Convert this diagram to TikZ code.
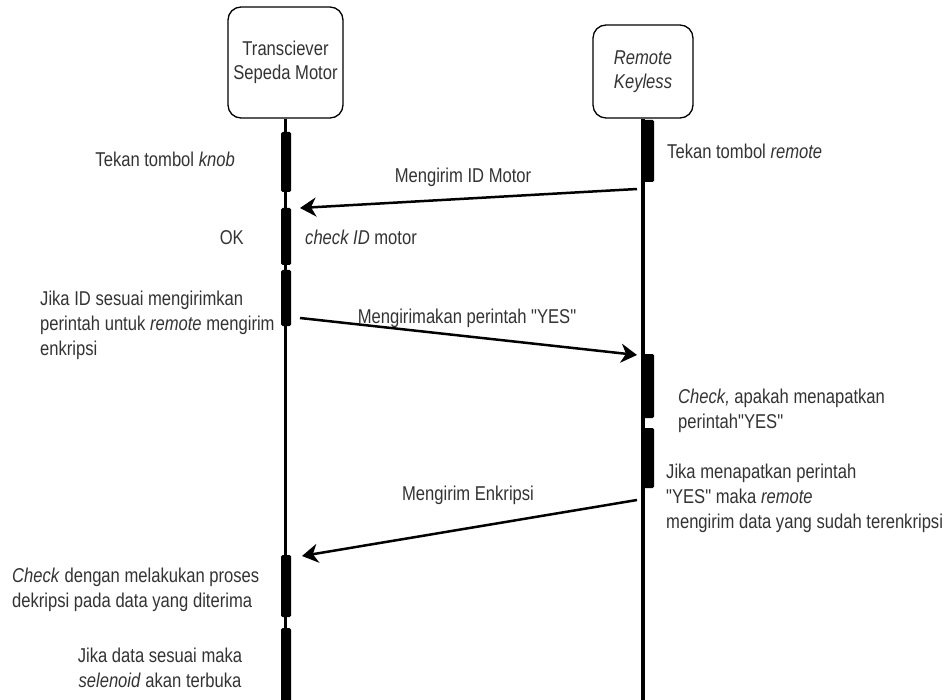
\documentclass[tikz,border=0pt]{standalone}
\usepackage{fontspec}
\setmainfont{Liberation Sans}[FakeStretch=0.83, Ligatures=TeXOff]
\usetikzlibrary{arrows.meta}
\begin{document}
\begin{tikzpicture}[x=1pt,y=-1pt,
  lbl/.style={font=\fontsize{20}{25}\selectfont, text=black!80, inner sep=0pt},
  actor/.style={draw, line width=1.3pt, rounded corners=13pt, align=center,
    font=\fontsize{20}{24}\selectfont, text=black!80, inner sep=0pt},
  life/.style={line width=3.5pt},
  lbar/.style={fill=black, draw=none, inner sep=0pt, rounded corners=1.5pt, minimum width=10pt},
  rbar/.style={fill=black, draw=none, inner sep=0pt, rounded corners=1.5pt, minimum width=13pt},
  msg/.style={line width=2.5pt, -{Stealth[length=16pt,width=19pt,inset=5pt]}}]
\useasboundingbox (0,0) rectangle (949,700);

% actors
\node[actor, minimum width=115pt, minimum height=111pt] (tr) at (285.5,62.5) {Transciever\\Sepeda Motor};
\node[actor, minimum width=100pt, minimum height=93pt] (rk) at (643,71.5) {\textit{Remote}\\\textit{Keyless}};

% lifelines
\coordinate (trEnd) at (285.5,700);
\coordinate (rkEnd) at (643,700);
\draw[life] (tr.south) -- (trEnd);
\draw[life] (rk.south) -- (rkEnd);

% activation bars, left
\node[lbar, minimum height=60pt] (L1) at (286,162) {};
\node[lbar, minimum height=57pt] (L2) at (286,236.5) {};
\node[lbar, minimum height=56pt] (L3) at (286,298) {};
\node[lbar, minimum height=62pt] (L4) at (286,586) {};
\node[lbar, minimum height=76pt] (L5) at (286,666) {};
% activation bars, right
\node[rbar, minimum height=62pt] (R1) at (647.5,151) {};
\node[rbar, minimum height=64pt] (R2) at (647.5,386) {};
\node[rbar, minimum height=60pt] (R3) at (647.5,458) {};

% messages
\coordinate (m1a) at (637,189);
\coordinate (m1b) at (300,208);
\draw[msg] (m1a) -- (m1b);
\coordinate (m2a) at (300,318);
\coordinate (m2b) at (637,355);
\draw[msg] (m2a) -- (m2b);
\coordinate (m3a) at (637,500);
\coordinate (m3b) at (302,556);
\draw[msg] (m3a) -- (m3b);

\node[lbl, anchor=base] (ml1) at (463,183) {Mengirim ID Motor};
\node[lbl, anchor=base] (ml2) at (467,323) {Mengirimakan perintah "YES"};
\node[lbl, anchor=base] (ml3) at (468,500) {Mengirim Enkripsi};

% notes
\node[lbl, anchor=base east] (t1) at (235,167) {Tekan tombol \textit{knob}};
\node[lbl, anchor=base east] (t2) at (244,245) {OK};
\node[lbl, anchor=base west] (t3) at (305,245) {\textit{check ID} motor};
\node[lbl, anchor=north west, align=left] (t4) at (40,290.7) {Jika ID sesuai mengirimkan\\perintah untuk \textit{remote} mengirim\\enkripsi};
\node[lbl, anchor=base west] (t5) at (667,159) {Tekan tombol \textit{remote}};
\node[lbl, anchor=north west, align=left] (t6) at (678,388.7) {\textit{Check,} apakah menapatkan\\perintah"YES"};
\node[lbl, anchor=north west, align=left] (t7) at (666,463.7) {Jika menapatkan perintah\\"YES" maka \textit{remote}\\mengirim data yang sudah terenkripsi};
\node[lbl, anchor=north west, align=left] (t8) at (12,567.7) {\textit{Check} dengan melakukan proses\\dekripsi pada data yang diterima};
\node[lbl, anchor=north, align=center] (t9) at (160,647.7) {Jika data sesuai maka\\\textit{selenoid} akan terbuka};
\end{tikzpicture}
\end{document}
